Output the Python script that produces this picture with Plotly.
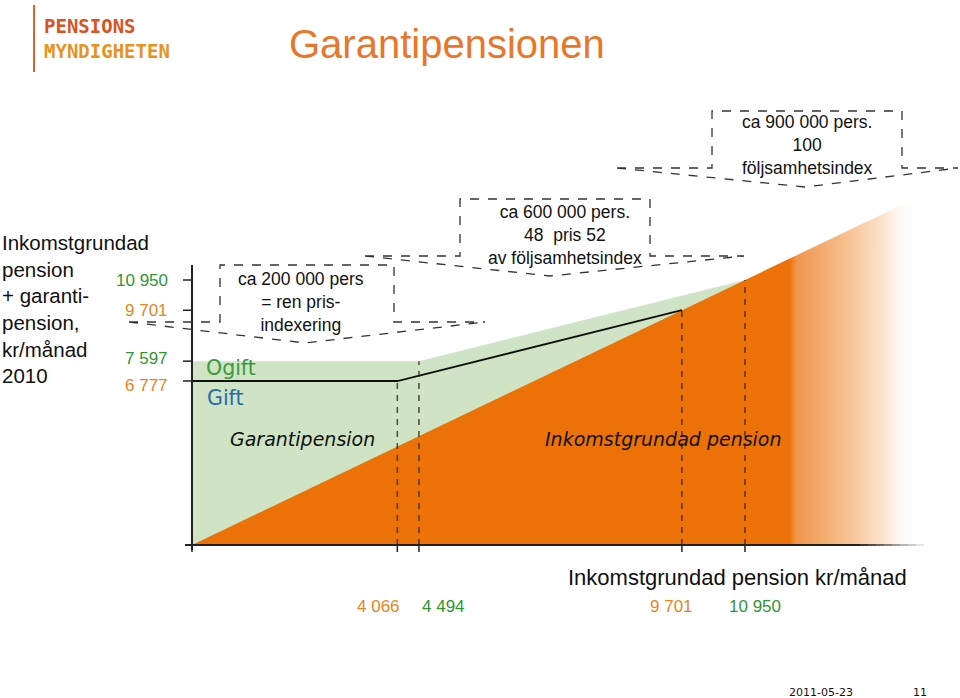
import numpy as np
import plotly.graph_objects as go

# ---------------- data ----------------
y_tick_values = [10950, 9701, 7597, 6777]
y_tick_labels = ["10 950", "9 701", "7 597", "6 777"]
x_tick_values = [4066, 4494, 9701, 10950]
x_tick_labels = ["4 066", "4 494", "9 701", "10 950"]

# guarantee pension + income pension (kr/month) vs income pension
ogift_x = [0, 4494, 10950]      # unmarried (Ogift)
ogift_y = [7597, 7597, 10950]
gift_x = [0, 4066, 9701]        # married (Gift)
gift_y = [6777, 6777, 9701]
income_x = [0, 14320]           # income-based pension (orange)
income_y = [0, 14320]

callout_texts = [
    "ca 200 000 pers<br>= ren pris-<br>indexering",
    "ca 600 000 pers.<br>48  pris 52<br>av följsamhetsindex",
    "ca 900 000 pers.<br>100<br>följsamhetsindex",
]

# ---------------- layout helpers (pixel mapping) ----------------
W, H = 960, 698
X0PX, XS = 192.0, 0.0505   # px of x=0, px per kr
Y0PX, YS = 545.0, 0.0242   # px of y=0, px per kr

def px(x):
    return x / W

def py(y):
    return 1 - y / H

ORANGE = "#EC7207"
GREEN_FILL = "#CFE3C5"
GREEN_TXT = "#2E9632"
ORANGE_TXT = "#E3861E"

fig = go.Figure()

# green area (Ogift total)
fig.add_trace(go.Scatter(x=ogift_x, y=ogift_y, mode="lines", line=dict(width=0),
                         fill="tozeroy", fillcolor=GREEN_FILL, hoverinfo="skip"))
# orange area (income pension) with fading right end
fig.add_trace(go.Scatter(
    x=income_x, y=income_y, mode="lines", line=dict(width=0), fill="tozeroy",
    fillgradient=dict(type="horizontal", start=0, stop=income_x[-1],
                      colorscale=[[0, ORANGE], [0.826, ORANGE], [0.836, "#F0964C"],
                                  [0.9, "#F6BC8A"], [0.96, "#FCE6D4"], [1, "rgba(255,255,255,0)"]]),
    hoverinfo="skip"))
# Gift line
fig.add_trace(go.Scatter(x=gift_x, y=gift_y, mode="lines", line=dict(color="#111", width=1.8),
                         hoverinfo="skip"))

# dashed verticals at the break points
tops = [np.interp(x_tick_values[0], gift_x, gift_y),
        np.interp(x_tick_values[1], ogift_x, ogift_y),
        np.interp(x_tick_values[2], gift_x, gift_y),
        np.interp(x_tick_values[3], ogift_x, ogift_y)]
for xv, tv in zip(x_tick_values, tops):
    fig.add_trace(go.Scatter(x=[xv, xv], y=[0, tv], mode="lines",
                             line=dict(color="rgba(45,35,30,0.8)", width=1.5, dash="6px,6px"),
                             hoverinfo="skip"))

shapes = []
# y axis
shapes.append(dict(type="line", xref="x", yref="paper", x0=0, x1=0, y0=py(265), y1=py(550),
                   line=dict(color="#222", width=2)))
# x axis with fade
shapes.append(dict(type="line", xref="paper", yref="y", x0=px(185), x1=px(860), y0=0, y1=0,
                   line=dict(color="#222", width=2)))
for i in range(8):
    shapes.append(dict(type="line", xref="paper", yref="y", x0=px(860 + i * 8), x1=px(868 + i * 8),
                       y0=0, y1=0, line=dict(color="#222", width=2), opacity=1 - (i + 1) / 9))
# y ticks
for v in y_tick_values:
    shapes.append(dict(type="line", xref="paper", yref="y", x0=px(183), x1=px(191), y0=v, y1=v,
                       line=dict(color="#222", width=1.5)))
# x ticks
for v in [0] + x_tick_values:
    shapes.append(dict(type="line", xref="x", yref="y", x0=v, x1=v, y0=0, y1=-7 / YS,
                       line=dict(color="#222", width=1.5)))

# callout arrows (dashed)
def callout(l_end, l_box, r_box, r_end, top, base, tip_x, tip_y):
    P = lambda x, y: f"{px(x):.5f},{py(y):.5f}"
    path = (f"M {P(l_end, base)} L {P(l_box, base)} L {P(l_box, top)} L {P(r_box, top)} "
            f"L {P(r_box, base)} L {P(r_end, base)} M {P(l_end, base)} L {P(tip_x, tip_y)} L {P(r_end, base)}")
    return dict(type="path", xref="paper", yref="paper", path=path,
                line=dict(color="#333", width=1.3, dash="dash"))

shapes.append(callout(129, 220, 394, 485, 265, 322, 305, 343))
shapes.append(callout(365, 460, 650, 744, 199, 256, 550, 276))
shapes.append(callout(617, 712, 902, 958, 111, 168, 805, 187))

# logo bar
shapes.append(dict(type="line", xref="paper", yref="paper", x0=px(34), x1=px(34), y0=py(5), y1=py(72),
                   line=dict(color="#D9622E", width=2)))

ann = []
def txt(x, y, s, size, color="#111", xa="center", family="Liberation Sans", ya="middle", align="center"):
    ann.append(dict(x=px(x), y=py(y), xref="paper", yref="paper", text=s, showarrow=False,
                    xanchor=xa, yanchor=ya, align=align,
                    font=dict(size=size, color=color, family=family)))

# logo + title
txt(42, 38, "<b><span style='color:#D8531F'>PENSIONS</span><br>"
            "<span style='color:#E8921E'>MYNDIGHETEN</span></b>", 19, "#D8531F",
    xa="left", family="DejaVu Sans Mono", align="left")
txt(447, 44, "Garantipensionen", 40, "#E8772A")

# left description
txt(0, 229, "Inkomstgrundad<br>pension<br>+ garanti-<br>pension,<br>kr/månad<br>2010", 20.5, "#111",
    xa="left", ya="top", align="left")

# y tick labels
ytick_colors = [GREEN_TXT, ORANGE_TXT, GREEN_TXT, ORANGE_TXT]
ytick_shift = [0, 0, 3, -4]
for v, lab, c, s in zip(y_tick_values, y_tick_labels, ytick_colors, ytick_shift):
    ann.append(dict(x=px(170), xref="paper", y=v, yref="y", yshift=s, text=lab, showarrow=False,
                    xanchor="right", yanchor="middle", font=dict(size=17, color=c, family="Liberation Sans")))

# x tick labels
xtick_colors = [ORANGE_TXT, GREEN_TXT, ORANGE_TXT, GREEN_TXT]
xtick_shift = [-19, 25, -10, 10]
for v, lab, c, s in zip(x_tick_values, x_tick_labels, xtick_colors, xtick_shift):
    ann.append(dict(x=v, xref="x", y=py(606), yref="paper", xshift=s, text=lab, showarrow=False,
                    xanchor="center", yanchor="middle", font=dict(size=17, color=c, family="Liberation Sans")))

txt(737, 577, "Inkomstgrundad pension kr/månad", 22, "#111")

# callout texts
txt(301, 302, callout_texts[0], 17.5, "#111")
txt(565, 235, callout_texts[1], 17.5, "#111")
txt(807, 145, callout_texts[2], 17.5, "#111")

# in-chart labels
txt(204, 368, "Ogift", 20.5, "#3A9A3A", xa="left", family="DejaVu Sans")
txt(205, 398, "Gift", 20.5, "#2A68A8", xa="left", family="DejaVu Sans")
txt(302, 439, "<i>Garantipension</i>", 19, "#111", family="DejaVu Sans")
txt(663, 439, "<i>Inkomstgrundad pension</i>", 19, "#111", family="DejaVu Sans")

# footer
txt(821, 692, "2011-05-23", 11, "#111", family="DejaVu Sans")
txt(920, 692, "11", 11, "#111", family="DejaVu Sans")

x_range = [-X0PX / XS, (W - X0PX) / XS]
y_range = [(Y0PX - H) / YS, Y0PX / YS]

fig.update_layout(
    width=W, height=H, margin=dict(l=0, r=0, t=0, b=0),
    paper_bgcolor="white", plot_bgcolor="white", showlegend=False,
    xaxis=dict(range=x_range, visible=False, fixedrange=True),
    yaxis=dict(range=y_range, visible=False, fixedrange=True),
    shapes=shapes, annotations=ann,
)

fig.write_html("out.html")
